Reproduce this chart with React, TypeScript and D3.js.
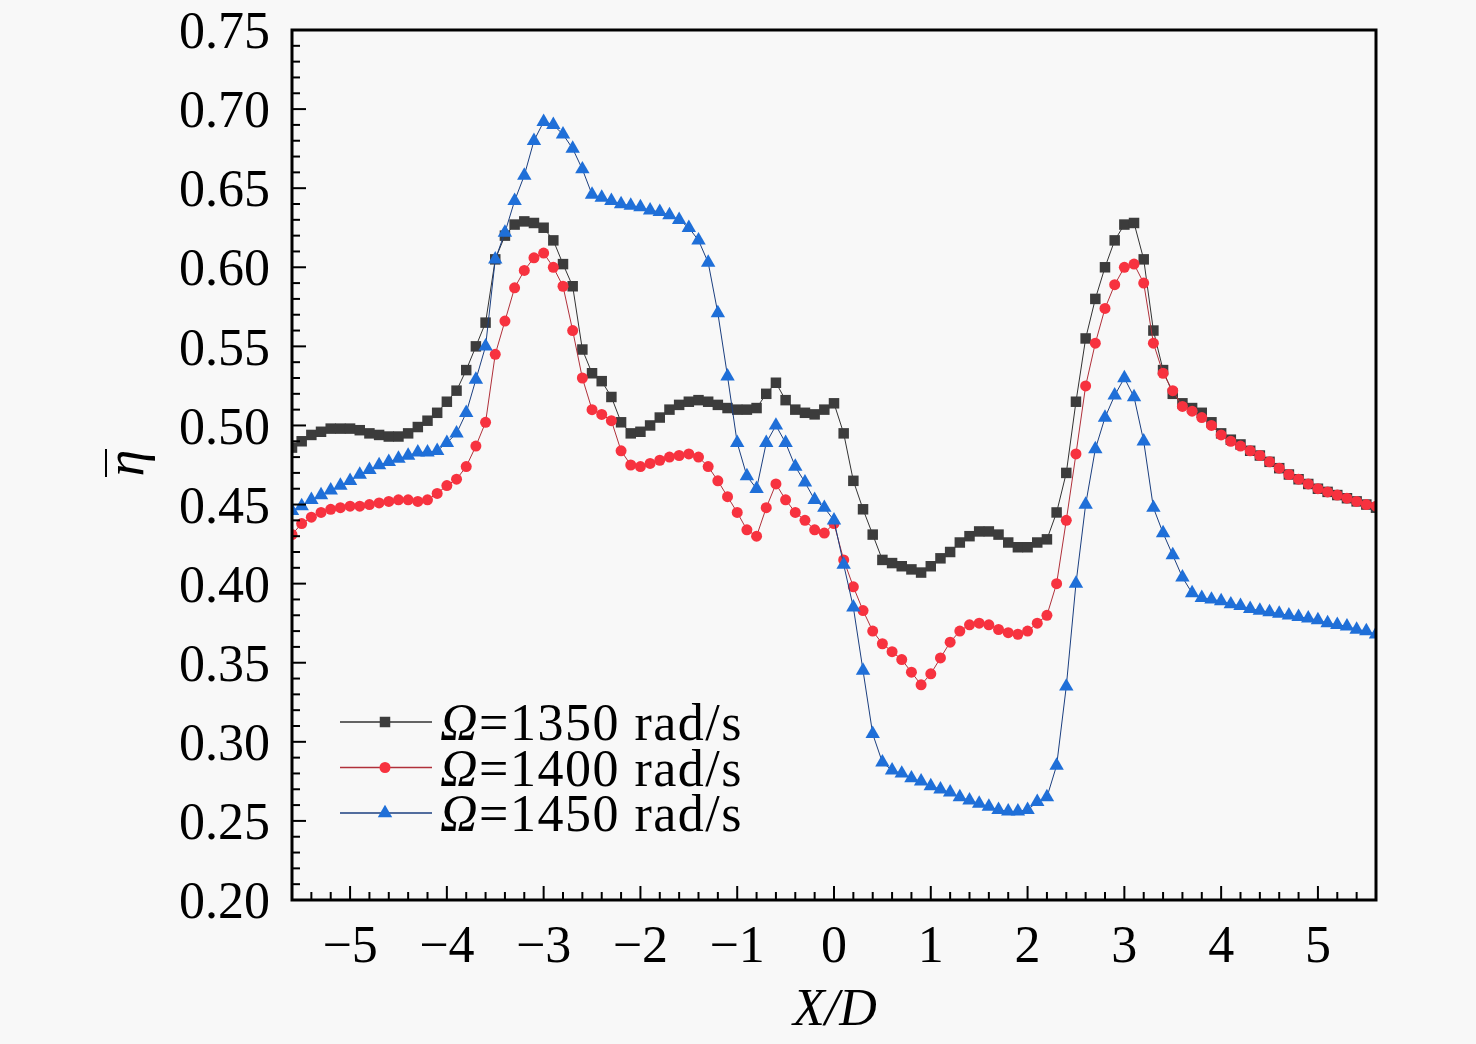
import * as d3 from "d3";

// sampling grid of X/D used by the CFD monitor points
const xD = d3.range(113).map((i) => Math.round((-5.6 + i * 0.1) * 10) / 10);

// mean efficiency, one value per X/D station
const eta1350 = [
  0.486, 0.490, 0.494, 0.496, 0.498, 0.498, 0.498, 0.497, 0.495, 0.494,
  0.493, 0.493, 0.495, 0.499, 0.503, 0.508, 0.515, 0.522, 0.535, 0.550,
  0.565, 0.605, 0.620, 0.627, 0.629, 0.628, 0.625, 0.617, 0.602, 0.588,
  0.548, 0.533, 0.528, 0.518, 0.502, 0.495, 0.496, 0.500, 0.505, 0.510,
  0.513, 0.515, 0.516, 0.515, 0.513, 0.511, 0.510, 0.510, 0.511, 0.520,
  0.527, 0.516, 0.510, 0.508, 0.507, 0.510, 0.514, 0.495, 0.465, 0.447,
  0.431, 0.415, 0.413, 0.411, 0.409, 0.407, 0.411, 0.416, 0.420, 0.426,
  0.430, 0.433, 0.433, 0.431, 0.426, 0.423, 0.423, 0.426, 0.428, 0.445,
  0.470, 0.515, 0.555, 0.580, 0.600, 0.617, 0.627, 0.628, 0.605, 0.560,
  0.535, 0.520, 0.514, 0.511, 0.508, 0.502, 0.495, 0.491, 0.488, 0.484,
  0.481, 0.477, 0.473, 0.469, 0.466, 0.463, 0.460, 0.458, 0.456, 0.454,
  0.452, 0.450, 0.448,
];

const eta1400 = [
  0.431, 0.438, 0.442, 0.445, 0.447, 0.448, 0.449, 0.449, 0.450, 0.451,
  0.452, 0.453, 0.453, 0.452, 0.453, 0.457, 0.462, 0.466, 0.474, 0.487,
  0.502, 0.545, 0.566, 0.587, 0.598, 0.606, 0.609, 0.600, 0.588, 0.560,
  0.530, 0.510, 0.507, 0.503, 0.484, 0.475, 0.474, 0.476, 0.478, 0.480,
  0.481, 0.482, 0.480, 0.474, 0.465, 0.455, 0.445, 0.434, 0.430, 0.448,
  0.463, 0.453, 0.445, 0.440, 0.434, 0.432, 0.438, 0.415, 0.398, 0.383,
  0.370, 0.362, 0.357, 0.352, 0.344, 0.336, 0.343, 0.353, 0.363, 0.370,
  0.374, 0.375, 0.374, 0.371, 0.369, 0.368, 0.370, 0.375, 0.380, 0.400,
  0.440, 0.482, 0.525, 0.552, 0.574, 0.589, 0.600, 0.602, 0.590, 0.552,
  0.533, 0.522, 0.512, 0.509, 0.505, 0.500, 0.494, 0.490, 0.487, 0.484,
  0.481, 0.477, 0.473, 0.469, 0.466, 0.463, 0.460, 0.458, 0.456, 0.454,
  0.452, 0.450, 0.449,
];

const eta1450 = [
  0.446, 0.449, 0.453, 0.456, 0.459, 0.462, 0.465, 0.469, 0.472, 0.475,
  0.477, 0.479, 0.481, 0.483, 0.483, 0.484, 0.489, 0.495, 0.508, 0.529,
  0.550, 0.605, 0.622, 0.642, 0.658, 0.680, 0.692, 0.690, 0.684, 0.675,
  0.662, 0.646, 0.644, 0.642, 0.640, 0.639, 0.638, 0.636, 0.635, 0.633,
  0.630, 0.625, 0.617, 0.603, 0.571, 0.531, 0.489, 0.468, 0.460, 0.489,
  0.500, 0.489, 0.474, 0.464, 0.453, 0.448, 0.440, 0.412, 0.385, 0.345,
  0.305, 0.287, 0.282, 0.280, 0.277, 0.275, 0.272, 0.270, 0.268, 0.265,
  0.263, 0.261, 0.259, 0.257, 0.256, 0.256, 0.257, 0.262, 0.265, 0.285,
  0.335, 0.400, 0.450, 0.485, 0.505, 0.519, 0.530, 0.518, 0.490, 0.448,
  0.432, 0.418, 0.404, 0.394, 0.391, 0.390, 0.389, 0.387, 0.386, 0.384,
  0.383, 0.382, 0.381, 0.380, 0.379, 0.378, 0.377, 0.375, 0.374, 0.373,
  0.371, 0.370, 0.368,
];

const legendLabels = ["=1350 rad/s", "=1400 rad/s", "=1450 rad/s"];
const xTicks = [-5, -4, -3, -2, -1, 0, 1, 2, 3, 4, 5];
const yTicks = [0.2, 0.25, 0.3, 0.35, 0.4, 0.45, 0.5, 0.55, 0.6, 0.65, 0.7, 0.75];

const W = 1476;
const H = 1044;
const FONT = "'Liberation Serif', 'Times New Roman', serif";

const series = [
  { values: eta1350, color: "#3c3c3c", line: "#333333", symbol: d3.symbolSquare, size: 110 },
  { values: eta1400, color: "#f7323f", line: "#b0303a", symbol: d3.symbolCircle, size: 95 },
  { values: eta1450, color: "#1f6fd8", line: "#1b3f80", symbol: d3.symbolTriangle, size: 90 },
];

export default function App() {
  const x = d3.scaleLinear().domain([-5.6, 5.6]).range([292, 1376]);
  const y = d3.scaleLinear().domain([0.2, 0.75]).range([900, 30]);

  const xMinor = d3.range(-28, 29).map((i) => i * 0.2).filter((v) => Math.abs(v - Math.round(v)) > 1e-6);
  const yMinor = d3.range(20, 76).map((i) => i / 100).filter((v) => Math.round(v * 100) % 5 !== 0);

  const line = d3
    .line<number>()
    .x((_, i) => x(xD[i]))
    .y((d) => y(d));

  const fmtY = d3.format(".2f");
  const fmtX = (v: number) => (v < 0 ? "\u2212" + Math.abs(v) : String(v));

  return (
    <div style={{ position: "absolute", left: 0, top: 0 }}>
      <svg width={W} height={H} style={{ display: "block", fontFamily: FONT }}>
        <rect width={W} height={H} fill="#f8f8f8" />
        <defs>
          <clipPath id="plot-clip">
            <rect x={292} y={30} width={1084} height={870} />
          </clipPath>
        </defs>

        {/* series */}
        <g clipPath="url(#plot-clip)">
          {series.map((s, si) => (
            <g key={si}>
              <path d={line(s.values) ?? ""} fill="none" stroke={s.line} strokeWidth={1} />
              {s.values.map((v, i) => (
                <path
                  key={i}
                  transform={`translate(${x(xD[i])},${y(v)})`}
                  d={d3.symbol().type(s.symbol).size(s.size)() ?? ""}
                  fill={s.color}
                />
              ))}
            </g>
          ))}
        </g>

        {/* ticks, drawn inward */}
        <g stroke="#000" strokeWidth={2}>
          {xTicks.map((t) => (
            <line key={"xM" + t} x1={x(t)} x2={x(t)} y1={900} y2={886} />
          ))}
          {xMinor.map((t) => (
            <line key={"xm" + t} x1={x(t)} x2={x(t)} y1={900} y2={892} />
          ))}
          {yTicks.map((t) => (
            <line key={"yM" + t} x1={292} x2={306} y1={y(t)} y2={y(t)} />
          ))}
          {yMinor.map((t) => (
            <line key={"ym" + t} x1={292} x2={300} y1={y(t)} y2={y(t)} />
          ))}
        </g>

        {/* frame */}
        <rect x={292} y={30} width={1084} height={870} fill="none" stroke="#000" strokeWidth={3} />

        {/* tick labels */}
        <g fontSize={52} fill="#000">
          {xTicks.map((t) => (
            <text key={"xl" + t} x={x(t)} y={962} textAnchor="middle">
              {fmtX(t)}
            </text>
          ))}
          {yTicks.map((t) => (
            <text key={"yl" + t} x={270} y={y(t)} dy="0.35em" textAnchor="end">
              {fmtY(t)}
            </text>
          ))}
        </g>

        {/* axis titles */}
        <text x={835} y={1025} textAnchor="middle" fontSize={52} fontStyle="italic">
          X/D
        </text>
        <g transform="translate(143,463) rotate(-90)">
          <text x={0} y={0} textAnchor="middle" fontSize={54} fontStyle="italic">
            η
          </text>
          <line x1={-14} x2={14} y1={-37} y2={-37} stroke="#000" strokeWidth={2} />
        </g>

        {/* legend */}
        {series.map((s, i) => {
          const ly = 722 + i * 45.5;
          return (
            <g key={"lg" + i}>
              <line x1={340} x2={432} y1={ly} y2={ly} stroke={s.line} strokeWidth={1.5} />
              <path
                transform={`translate(${385},${ly})`}
                d={d3.symbol().type(s.symbol).size(s.size)() ?? ""}
                fill={s.color}
              />
              <text x={440} y={ly} dy="0.35em" fontSize={52} letterSpacing={1.5}>
                <tspan fontStyle="italic">Ω</tspan>
                {legendLabels[i]}
              </text>
            </g>
          );
        })}
      </svg>
    </div>
  );
}
